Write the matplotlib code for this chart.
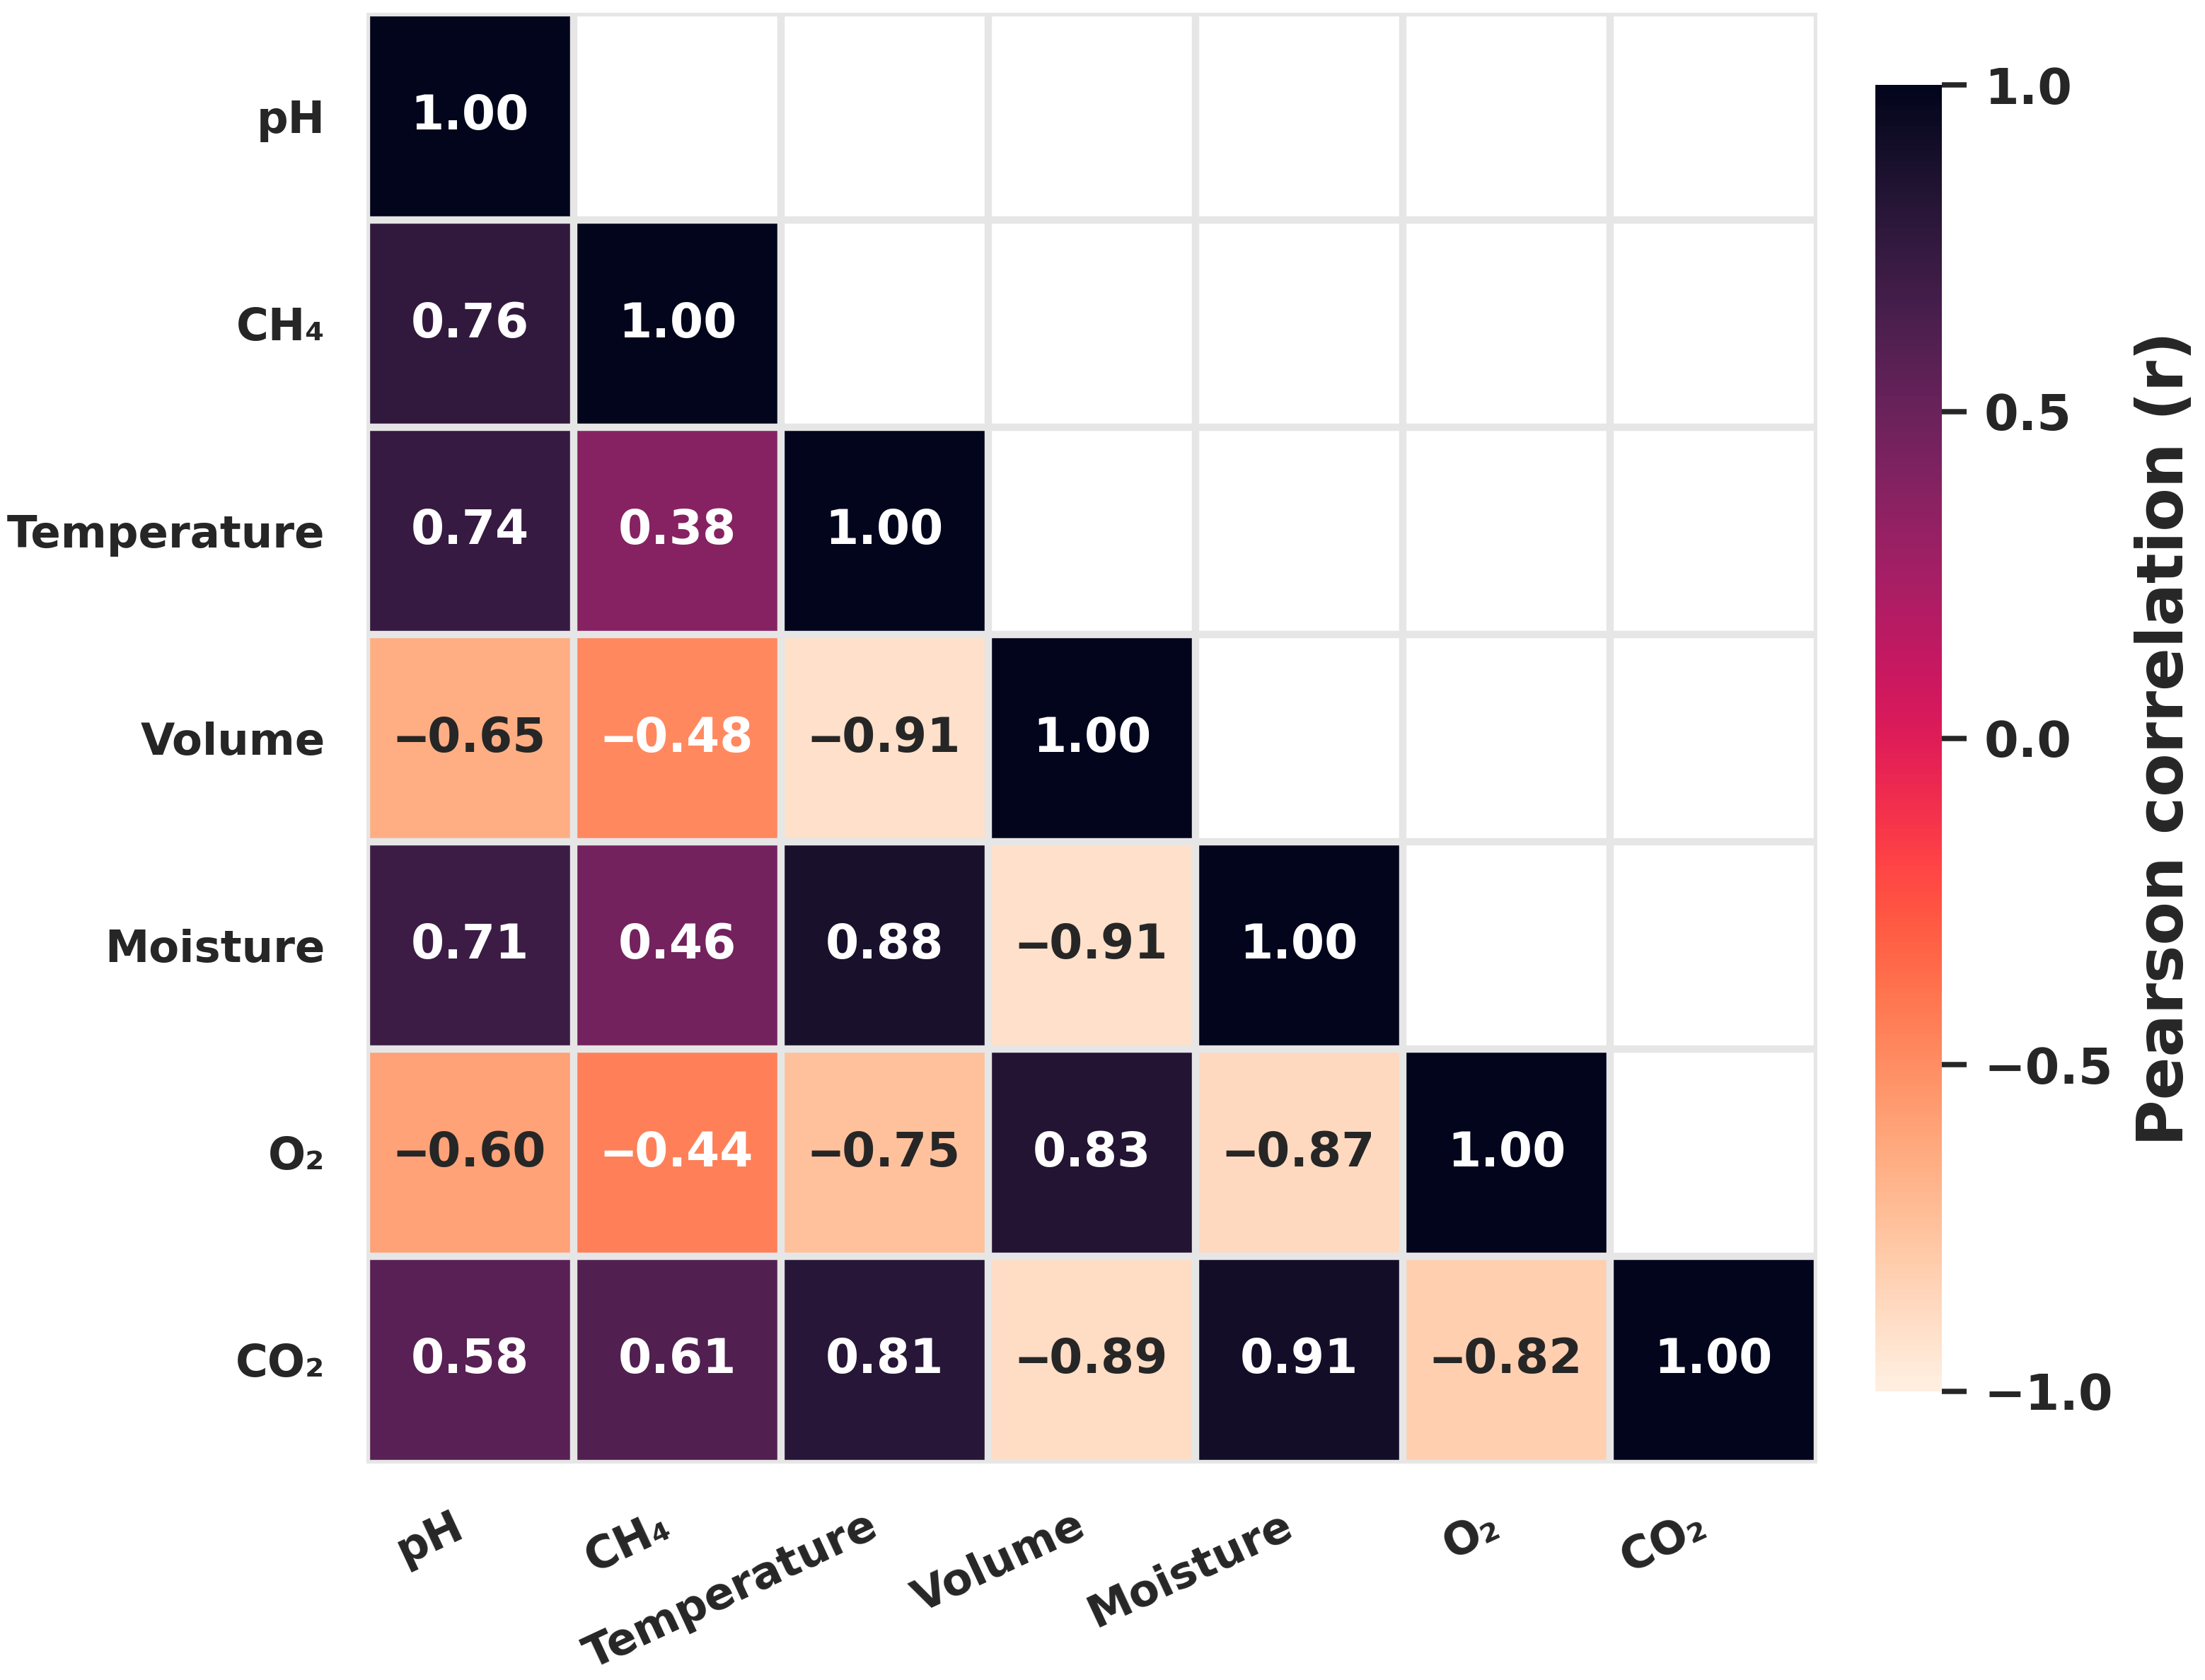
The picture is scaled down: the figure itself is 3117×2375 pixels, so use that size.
import numpy as np
import matplotlib
matplotlib.use("Agg")
import matplotlib.pyplot as plt
import matplotlib.colors as mcolors
import seaborn as sns

# ---- data ----
variables = ["pH", "CH\u2084", "Temperature", "Volume", "Moisture", "O\u2082", "CO\u2082"]
row_pH = [1.00]
row_CH4 = [0.76, 1.00]
row_Temperature = [0.74, 0.38, 1.00]
row_Volume = [-0.65, -0.48, -0.91, 1.00]
row_Moisture = [0.71, 0.46, 0.88, -0.91, 1.00]
row_O2 = [-0.60, -0.44, -0.75, 0.83, -0.87, 1.00]
row_CO2 = [0.58, 0.61, 0.81, -0.89, 0.91, -0.82, 1.00]
cbar_ticks = [-1.0, -0.5, 0.0, 0.5, 1.0]

rows = [row_pH, row_CH4, row_Temperature, row_Volume, row_Moisture, row_O2, row_CO2]
n = len(variables)
corr = np.full((n, n), np.nan)
for i, r in enumerate(rows):
    for j, v in enumerate(r):
        corr[i, j] = v
        corr[j, i] = v
mask = np.triu(np.ones((n, n), dtype=bool), k=1)
data = np.ma.masked_array(corr, mask=mask)

plt.rcParams['font.family'] = ['DejaVu Sans']
plt.rcParams['font.weight'] = 'bold'

# rocket_r, slightly brightened
base = sns.color_palette("rocket_r", as_cmap=True)
lut = base(np.linspace(0, 1, 256))[:, :3]
hsv = mcolors.rgb_to_hsv(lut)
hsv[:, 2] = np.clip(hsv[:, 2] * 1.1, 0, 1)
cmap = mcolors.ListedColormap(mcolors.hsv_to_rgb(hsv))
norm = mcolors.Normalize(vmin=-1, vmax=1)

fig = plt.figure(figsize=(3117 / 300, 2375 / 300), dpi=300)
ax = fig.add_axes([518 / 3117, 1 - 2069 / 2375, 2051 / 3117, 2051 / 2375])
cax = fig.add_axes([2651 / 3117, 1 - 1967 / 2375, 94 / 3117, 1847 / 2375])

mesh = ax.pcolormesh(np.arange(n + 1), np.arange(n + 1), data, cmap=cmap, norm=norm)
ax.set_xlim(0, n)
ax.set_ylim(n, 0)

grid_color = "#e6e6e6"
for k in range(n + 1):
    ax.axhline(k, color=grid_color, lw=2.5, zorder=3)
    ax.axvline(k, color=grid_color, lw=2.5, zorder=3)

def rel_lum(c):
    rgb = np.array(mcolors.to_rgb(c))
    rgb = np.where(rgb <= 0.03928, rgb / 12.92, ((rgb + 0.055) / 1.055) ** 2.4)
    return rgb.dot([0.2126, 0.7152, 0.0722])

for i in range(n):
    for j in range(n):
        if mask[i, j]:
            continue
        v = corr[i, j]
        col = cmap(norm(v))
        tc = "#262626" if rel_lum(col) > 0.43 else "white"
        ax.text(j + 0.5, i + 0.5, f"{v:.2f}".replace("-", "\u2012"),
                ha="center", va="center", fontsize=16.3, fontweight="bold",
                color=tc, zorder=4)

for s in ax.spines.values():
    s.set_visible(False)
ax.set_xticks(np.arange(n) + 0.5)
ax.set_yticks(np.arange(n) + 0.5)
ax.set_xticklabels(variables, rotation=25, ha="right",
                   fontsize=15, fontweight="bold", color="#262626")
ax.set_yticklabels(variables, rotation=0, fontsize=15, fontweight="bold",
                   color="#262626")
ax.tick_params(axis="x", length=0, pad=14)
ax.tick_params(axis="y", length=0, pad=14)

cbar = fig.colorbar(mesh, cax=cax, ticks=cbar_ticks)
cbar.outline.set_visible(False)
cbar.ax.tick_params(length=8.4, width=1.8, pad=6, labelsize=16.8,
                    color="#262626", labelcolor="#262626")
for t in cbar.ax.get_yticklabels():
    t.set_fontweight("bold")
cbar.set_label("Pearson correlation (r)", fontsize=21.5, fontweight="bold",
               color="#262626", labelpad=7)

fig.savefig("out.png", dpi=300)
